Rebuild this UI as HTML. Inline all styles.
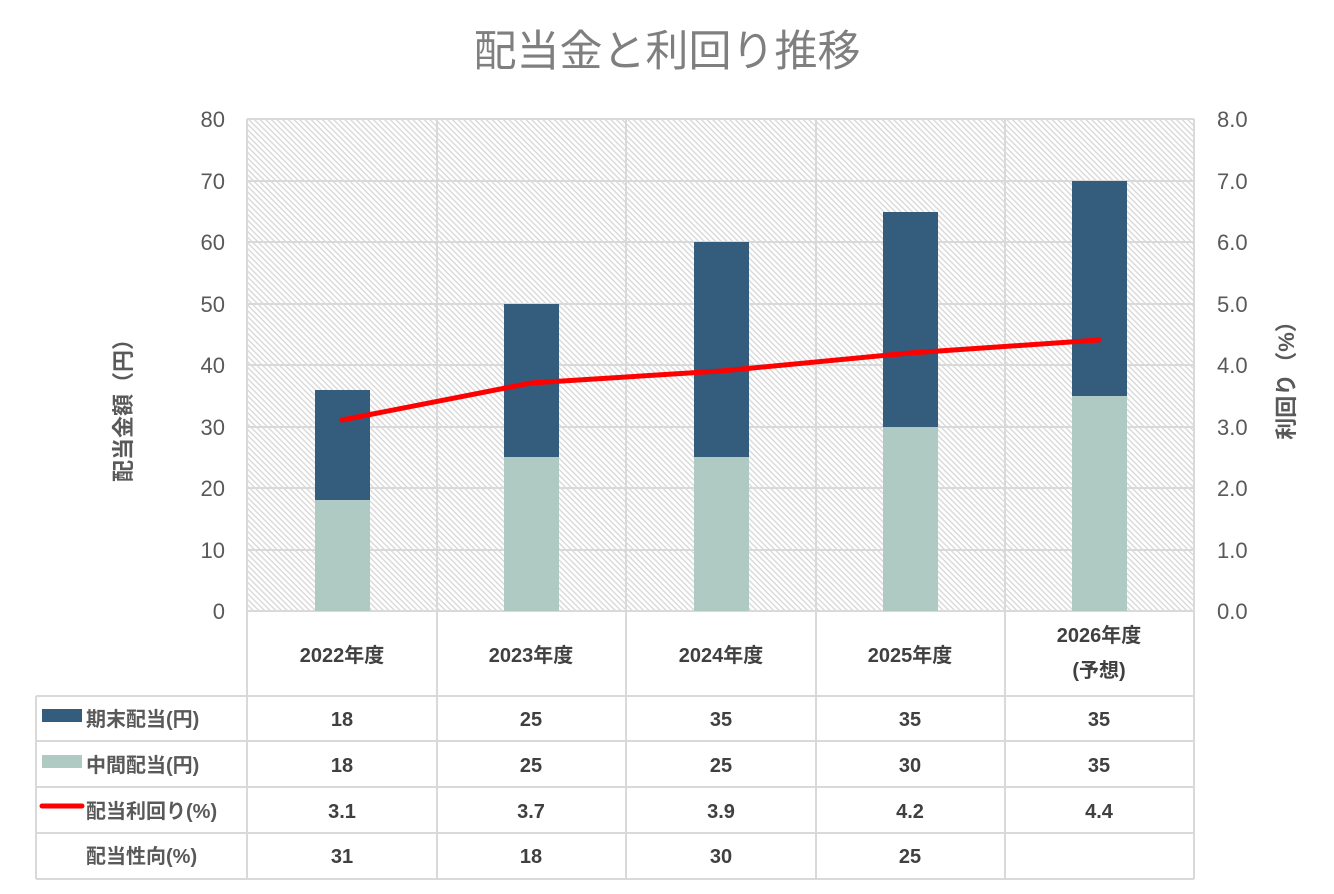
<!DOCTYPE html>
<html><head><meta charset="utf-8"><style>
body{margin:0;background:#fff;}
svg text{font-family:"Liberation Sans","Noto Sans CJK JP",sans-serif;}
</style></head><body>
<svg width="1334" height="889" xmlns="http://www.w3.org/2000/svg">
<defs>
<pattern id="h" width="4" height="4" patternUnits="userSpaceOnUse" patternTransform="rotate(45)">
<rect width="4" height="4" fill="#fff"/><rect width="4" height="1.3" fill="#d6d6d6"/>
</pattern>
</defs>
<text x="667" y="66" font-size="43" fill="#7f7f7f" text-anchor="middle">配当金と利回り推移</text>
<rect x="247" y="119" width="947" height="492" fill="url(#h)"/>
<g stroke="#d9d9d9" stroke-width="2">
<line x1="247" y1="119" x2="1194" y2="119"/><line x1="247" y1="181" x2="1194" y2="181"/>
<line x1="247" y1="242" x2="1194" y2="242"/><line x1="247" y1="304" x2="1194" y2="304"/>
<line x1="247" y1="365" x2="1194" y2="365"/><line x1="247" y1="427" x2="1194" y2="427"/>
<line x1="247" y1="488" x2="1194" y2="488"/><line x1="247" y1="550" x2="1194" y2="550"/>
<line x1="247" y1="611" x2="1194" y2="611"/>
<line x1="247" y1="119" x2="247" y2="879"/><line x1="437" y1="119" x2="437" y2="879"/>
<line x1="626" y1="119" x2="626" y2="879"/><line x1="816" y1="119" x2="816" y2="879"/>
<line x1="1005" y1="119" x2="1005" y2="879"/><line x1="1194" y1="119" x2="1194" y2="879"/>
<line x1="36" y1="696" x2="1194" y2="696"/><line x1="36" y1="741" x2="1194" y2="741"/>
<line x1="36" y1="787" x2="1194" y2="787"/><line x1="36" y1="833" x2="1194" y2="833"/>
<line x1="36" y1="879" x2="1194" y2="879"/><line x1="36" y1="696" x2="36" y2="879"/>
</g>
<g fill="#afc9c3">
<rect x="315" y="500" width="55" height="111"/><rect x="504" y="457" width="55" height="154"/>
<rect x="694" y="457" width="55" height="154"/><rect x="883" y="427" width="55" height="184"/>
<rect x="1072" y="396" width="55" height="215"/>
</g>
<g fill="#345c7c">
<rect x="315" y="390" width="55" height="110"/><rect x="504" y="304" width="55" height="153"/>
<rect x="694" y="242" width="55" height="215"/><rect x="883" y="212" width="55" height="215"/>
<rect x="1072" y="181" width="55" height="215"/>
</g>
<polyline points="342,420 531,383 721,371 910,353 1099,340" fill="none" stroke="#f00" stroke-width="5" stroke-linejoin="round" stroke-linecap="round"/>
<g font-size="22" fill="#595959" text-anchor="end">
<text x="225" y="127">80</text><text x="225" y="189">70</text><text x="225" y="250">60</text>
<text x="225" y="312">50</text><text x="225" y="373">40</text><text x="225" y="435">30</text>
<text x="225" y="496">20</text><text x="225" y="558">10</text><text x="225" y="619">0</text>
</g>
<g font-size="22" fill="#595959">
<text x="1217" y="127">8.0</text><text x="1217" y="189">7.0</text><text x="1217" y="250">6.0</text>
<text x="1217" y="312">5.0</text><text x="1217" y="373">4.0</text><text x="1217" y="435">3.0</text>
<text x="1217" y="496">2.0</text><text x="1217" y="558">1.0</text><text x="1217" y="619">0.0</text>
</g>
<text transform="translate(131,405) rotate(-90)" font-size="22" font-weight="bold" fill="#595959" text-anchor="middle">配当金額（円）</text>
<text transform="translate(1294,375) rotate(-90)" font-size="22" font-weight="bold" fill="#595959" text-anchor="middle">利回り（%）</text>
<g font-size="20" font-weight="bold" fill="#404040" text-anchor="middle">
<text x="342" y="662">2022年度</text><text x="531" y="662">2023年度</text><text x="721" y="662">2024年度</text>
<text x="910" y="662">2025年度</text><text x="1099" y="642">2026年度</text><text x="1099" y="677">(予想)</text>
<text x="342" y="726">18</text><text x="531" y="726">25</text><text x="721" y="726">35</text><text x="910" y="726">35</text><text x="1099" y="726">35</text>
<text x="342" y="772">18</text><text x="531" y="772">25</text><text x="721" y="772">25</text><text x="910" y="772">30</text><text x="1099" y="772">35</text>
<text x="342" y="818">3.1</text><text x="531" y="818">3.7</text><text x="721" y="818">3.9</text><text x="910" y="818">4.2</text><text x="1099" y="818">4.4</text>
<text x="342" y="863">31</text><text x="531" y="863">18</text><text x="721" y="863">30</text><text x="910" y="863">25</text>
</g>
<rect x="42" y="709" width="40" height="13" fill="#345c7c"/>
<rect x="42" y="755" width="40" height="13" fill="#afc9c3"/>
<line x1="42" y1="806" x2="82" y2="806" stroke="#f00" stroke-width="5" stroke-linecap="round"/>
<g font-size="20" font-weight="bold" fill="#595959">
<text x="86" y="726">期末配当(円)</text><text x="86" y="772">中間配当(円)</text>
<text x="86" y="818">配当利回り(%)</text><text x="86" y="863">配当性向(%)</text>
</g>
</svg>
</body></html>
